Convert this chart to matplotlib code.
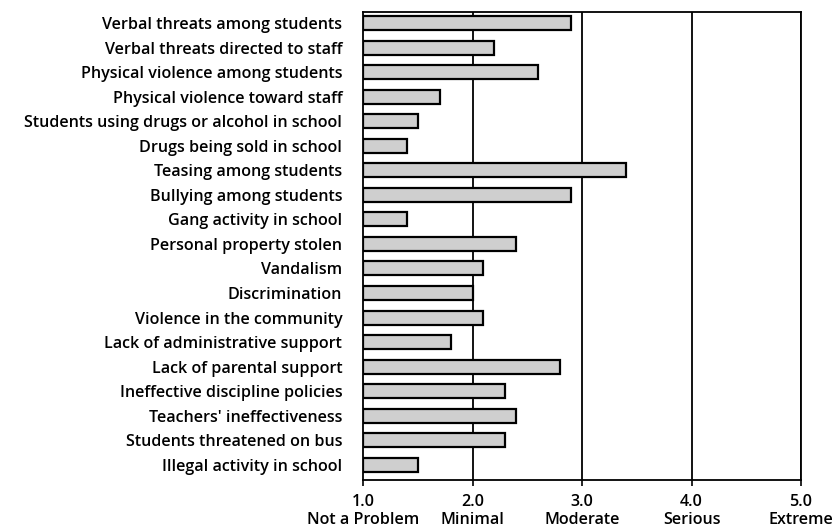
import matplotlib
matplotlib.use("Agg")
import matplotlib.pyplot as plt

categories = [
    "Verbal threats among students",
    "Verbal threats directed to staff",
    "Physical violence among students",
    "Physical violence toward staff",
    "Students using drugs or alcohol in school",
    "Drugs being sold in school",
    "Teasing among students",
    "Bullying among students",
    "Gang activity in school",
    "Personal property stolen",
    "Vandalism",
    "Discrimination",
    "Violence in the community",
    "Lack of administrative support",
    "Lack of parental support",
    "Ineffective discipline policies",
    "Teachers' ineffectiveness",
    "Students threatened on bus",
    "Illegal activity in school",
]
values = [2.9, 2.2, 2.6, 1.7, 1.5, 1.4, 3.4, 2.9, 1.4, 2.4, 2.1, 2.0, 2.1, 1.8, 2.8, 2.3, 2.4, 2.3, 1.5]
tick_values = [1.0, 2.0, 3.0, 4.0, 5.0]
tick_labels = ["1.0\nNot a Problem", "2.0\nMinimal", "3.0\nModerate", "4.0\nSerious", "5.0\nExtreme"]

plt.rcParams['font.family'] = ['Open Sans', 'DejaVu Sans']

fig = plt.figure(figsize=(8.36, 5.29), dpi=100)
ax = fig.add_axes([363/836, 1-480/529, (801-363)/836, (480-12)/529])

base = 1.0
pos = list(range(len(categories)))
ax.barh(pos, [v - base for v in values], left=base, height=0.57,
        color='#cfcfcf', edgecolor='black', linewidth=1.6, zorder=3)

ax.set_xlim(1.0, 5.0)
ax.set_ylim(len(categories) - 1 + 0.62, -0.45)
ax.set_yticks(pos)
ax.set_yticklabels(categories, fontsize=11.6, fontweight='semibold')
ax.tick_params(axis='y', length=0, pad=15)
ax.set_xticks(tick_values)
ax.set_xticklabels(tick_labels, fontsize=11.6, fontweight='semibold', linespacing=1.2)
ax.tick_params(axis='x', length=4, width=1.2, direction='out', pad=6)

for x in tick_values[1:]:
    ax.axvline(x, color='black', linewidth=1.3, zorder=1)

for s in ['top', 'bottom', 'left', 'right']:
    ax.spines[s].set_linewidth(1.3)
    ax.spines[s].set_color('black')

fig.savefig("out.png", dpi=100)
